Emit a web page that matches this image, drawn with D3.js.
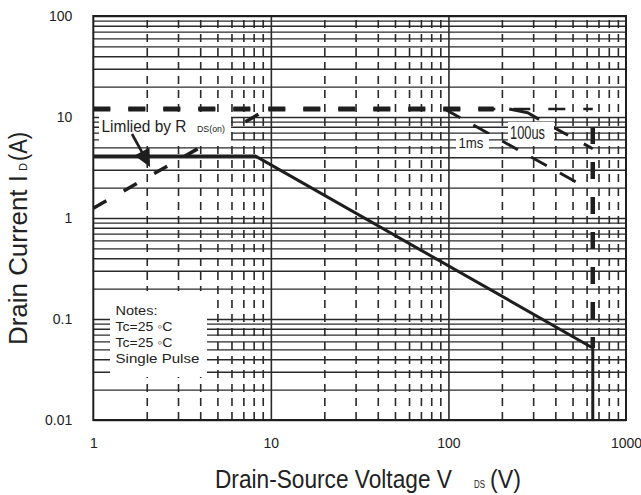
<!DOCTYPE html>
<html><head><meta charset="utf-8">
<script src="https://cdn.jsdelivr.net/npm/d3@7"></script>
<style>
body{margin:0;background:#fff}
svg{display:block}
text{font-family:"Liberation Sans",Arial,sans-serif;fill:#222}
</style>
</head><body>
<svg id="c" width="641" height="495"></svg>
<script>
// ---- data ----
const xTicks = [1, 10, 100, 1000];
const xTickLabels = ["1", "10", "100", "1000"];
const yTicks = [0.01, 0.1, 1, 10, 100];
const yTickLabels = ["0.01", "0.1", "1", "10", "100"];

// R_DS(on) limit
const rdsV = [1, 9.6];
const rdsI = [1.25, 12];
// pulsed current limit (12 A)
const idmV = [1, 650];
const idmI = [12, 12];
const idmBoldV = [1, 180];
const idmBoldI = [12, 12];
// 1 ms
const ms1V = [95, 587];
const ms1I = [12, 2.03];
// 100 us
const us100V = [220, 280, 330, 650];
const us100I = [12, 11, 9.3, 4.85];
// breakdown voltage limit
const bvV = [650, 650];
const bvI = [12, 0.0517];
// DC
const dcV = [1, 8.2, 650, 650];
const dcI = [4.1, 4.1, 0.0517, 0.01];

// ---- layout ----
const L = 93.3, R = 626, T = 16, B = 420;
const W = R - L, H = B - T;
const ink = "#1e1e1e";

const svg = d3.select("#c");
const x = d3.scaleLog().domain([1, 1000]).range([L, R]);
const y = d3.scaleLog().domain([0.01, 100]).range([B, T]);

// grid values
const decadesY = [0.01, 0.1, 1, 10];
const yGrid = [];
decadesY.forEach(d => { for (let m = 1; m <= 9; m++) yGrid.push(m * d); });
yGrid.push(100);
const xMinor = [];
[1, 10, 100].forEach(d => { for (let m = 2; m <= 9; m++) xMinor.push(m * d); });
const xMajor = [10, 100];

// horizontal grid
const gh = svg.append("g").attr("transform", `translate(${L},0)`)
  .call(d3.axisLeft(y).tickValues(yGrid).tickSize(-W).tickFormat(""));
gh.select(".domain").remove();
gh.selectAll("line").attr("stroke", "#2a2a2a").attr("stroke-width", 1.4);

// vertical minor grid (dashed)
const gv = svg.append("g").attr("transform", `translate(0,${B})`)
  .call(d3.axisBottom(x).tickValues(xMinor).tickSize(-H).tickFormat(""));
gv.select(".domain").remove();
gv.selectAll("line").attr("stroke", "#2a2a2a").attr("stroke-width", 1.6)
  .attr("stroke-dasharray", "8,6");

// vertical major grid
const gM = svg.append("g").attr("transform", `translate(0,${B})`)
  .call(d3.axisBottom(x).tickValues(xMajor).tickSize(-H).tickFormat(""));
gM.select(".domain").remove();
gM.selectAll("line").attr("stroke", "#2a2a2a").attr("stroke-width", 1.6);

// frame
svg.append("rect").attr("x", L).attr("y", T).attr("width", W).attr("height", H)
  .attr("fill", "none").attr("stroke", ink).attr("stroke-width", 2);

// tick labels
const ax = svg.append("g").attr("transform", `translate(0,${B})`)
  .call(d3.axisBottom(x).tickValues(xTicks).tickSize(0).tickPadding(18)
    .tickFormat((d, i) => xTickLabels[i]));
ax.select(".domain").remove();
ax.selectAll("text").attr("font-size", 14).attr("fill", "#333")
  .attr("font-family", '"Liberation Sans",Arial,sans-serif');

const ay = svg.append("g").attr("transform", `translate(${L},0)`)
  .call(d3.axisLeft(y).tickValues(yTicks).tickSize(0).tickPadding(21)
    .tickFormat((d, i) => yTickLabels[i]));
ay.select(".domain").remove();
ay.selectAll("text").attr("font-size", 14).attr("fill", "#333")
  .attr("font-family", '"Liberation Sans",Arial,sans-serif');

// ---- curves ----
const line = d3.line().x(d => x(d[0])).y(d => y(d[1]));
const zip = (a, b) => a.map((v, i) => [v, b[i]]);
function draw(V, I, w, dash, off) {
  const p = svg.append("path").attr("d", line(zip(V, I)))
    .attr("fill", "none").attr("stroke", ink).attr("stroke-width", w)
    .attr("stroke-linejoin", "round");
  if (dash) p.attr("stroke-dasharray", dash);
  if (off) p.attr("stroke-dashoffset", off);
  return p;
}
draw(idmV, idmI, 2.4, "17,18");
draw(idmBoldV, idmBoldI, 5, "17,18");
draw(rdsV, rdsI, 3.5, "15,20");
draw(ms1V, ms1I, 3, "18,15");
draw(us100V, us100I, 3, "32,16,17,18");
draw(bvV, bvI, 4.5, "17,18", 17);
draw(dcV, dcI, 3, null);

// ---- annotations ----
// text squeezed horizontally to a given width
function fitText(parent, str, x0, y0, size, w) {
  const t = parent.append("text").attr("font-size", size).text(str);
  const n = t.node().getComputedTextLength();
  t.attr("transform", `translate(${x0},${y0}) scale(${w / n},1)`);
  return t;
}
function box(x0, y0, w, h) {
  svg.append("rect").attr("x", x0).attr("y", y0).attr("width", w).attr("height", h)
    .attr("fill", "#fff");
}
// R_DS(on) label
box(99, 116, 132, 29);
fitText(svg, "Limlied by R", 101.5, 132, 16, 85);
fitText(svg, "DS(on)", 197, 132, 9.5, 28);
// arrow
svg.append("line").attr("x1", 132).attr("y1", 134).attr("x2", 143).attr("y2", 154)
  .attr("stroke", ink).attr("stroke-width", 2.6);
svg.append("path").attr("d", "M150,167 L134.5,155.5 L149.5,147.5 Z").attr("fill", ink);

// 1ms label
box(456, 134, 33, 17);
fitText(svg, "1ms", 458.5, 148, 15, 25);
// 100us label
box(508, 122, 46, 20);
fitText(svg, "100us", 510, 138.5, 17.5, 35);

// Notes
box(110, 291, 97, 86);
const notes = ["Notes:", "Tc=25 \u25E6C", "Tc=25 \u25E6C", "Single Pulse"];
const notesW = [42, 57, 57, 84];
notes.forEach((t, i) => fitText(svg, t, 115.5, 315 + i * 16, 13.5, notesW[i]));

// axis titles
fitText(svg, "Drain-Source Voltage V", 215, 488, 25, 237);
fitText(svg, "DS", 474, 488, 10, 11);
fitText(svg, "(V)", 490, 488, 25, 31);

const yt = svg.append("g").attr("transform", "translate(27,0) rotate(-90)");
fitText(yt, "Drain Current I", -345, 0, 26, 170);
fitText(yt, "D", -171, 0, 11, 8);
fitText(yt, "(A)", -161, 0, 26, 29);
</script>
</body></html>
